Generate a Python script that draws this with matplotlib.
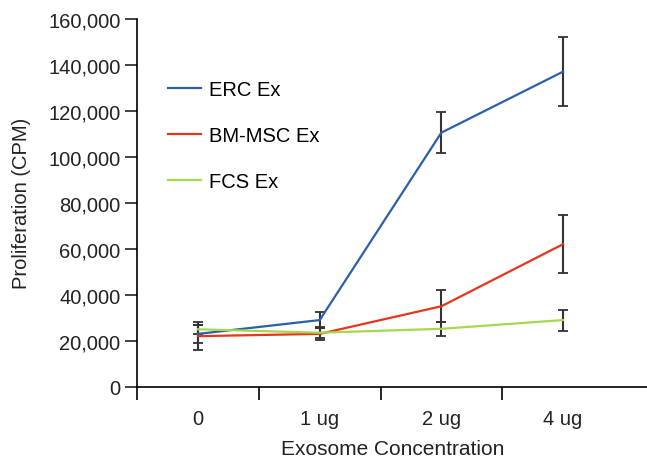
import matplotlib.pyplot as plt
from matplotlib.ticker import FuncFormatter

plt.rcParams['font.family'] = ['Liberation Sans', 'DejaVu Sans']

doses = ['0', '1 ug', '2 ug', '4 ug']
erc = [23000, 29000, 110500, 137000]
erc_err = [4000, 3500, 9000, 15000]
bm = [22000, 23000, 35000, 62000]
bm_err = [6000, 2500, 7000, 12600]
fcs = [25000, 23500, 25200, 29000]
fcs_err = [2000, 2500, 3000, 4600]

x = list(range(len(doses)))
fs = 14.5
txt = '#222222'

fig = plt.figure(figsize=(6.47, 4.6), dpi=100)
ax = fig.add_axes([0.212, 0.157, 0.788, 0.8])

series = [(erc, erc_err, '#2d5eab', 'ERC Ex'),
          (bm, bm_err, '#e5361c', 'BM-MSC Ex'),
          (fcs, fcs_err, '#a5d94b', 'FCS Ex')]
for y, e, c, lab in series:
    ax.errorbar(x, y, yerr=e, fmt='none', ecolor='#333333', elinewidth=1.5,
                capsize=3.5, capthick=1.3, zorder=2)
for y, e, c, lab in series:
    ax.plot(x, y, color=c, lw=1.6, label=lab, zorder=3)

ax.set_xlim(-0.5, 3.69)
ax.set_ylim(0, 160000)
ax.set_yticks(range(0, 160001, 20000))
ax.yaxis.set_major_formatter(FuncFormatter(lambda v, p: f'{int(v):,}'))
ax.set_xticks([-0.5, 0.5, 1.5, 2.5])
ax.set_xticklabels([])
for i, d in enumerate(doses):
    ax.text(i, -0.06, d, transform=ax.get_xaxis_transform(), ha='center',
            va='top', fontsize=fs, color=txt)

for s in ['top', 'right']:
    ax.spines[s].set_visible(False)
for s in ['left', 'bottom']:
    ax.spines[s].set_linewidth(1.2)
ax.tick_params(axis='y', direction='out', length=9, width=1.2, labelsize=fs,
               colors=txt, pad=3)
ax.tick_params(axis='x', direction='out', length=9, width=1.2)

ax.set_ylabel('Proliferation (CPM)', fontsize=fs, color=txt, labelpad=12)
fig.text(0.607, 1 - 450 / 460, 'Exosome Concentration', fontsize=fs + 0.5,
         color=txt, ha='center', va='center')

ax.legend(loc='upper left', bbox_to_anchor=(0.025, 0.883), frameon=False,
          fontsize=fs, handlelength=1.65, labelspacing=1.35, handletextpad=0.4)

fig.savefig('out.png', dpi=100)
